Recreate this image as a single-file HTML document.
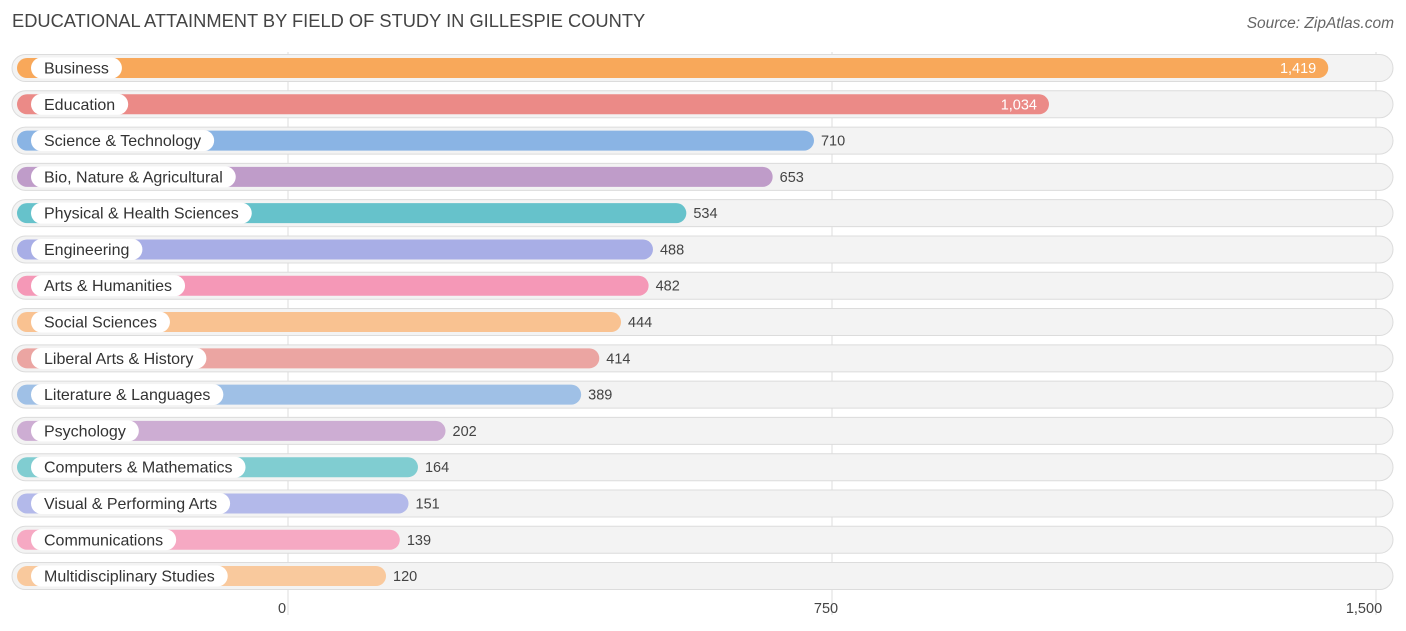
<!DOCTYPE html>
<html><head><meta charset="utf-8"><style>
body{margin:0;background:#fff;font-family:"Liberation Sans",sans-serif;}
#c{position:relative;width:1406px;height:631px;overflow:hidden}
.t{position:absolute;left:12px;top:10px;font-size:18.3px;color:#444}
.src{position:absolute;right:12px;top:15px;font-size:15.5px;color:#666;font-style:italic}
</style></head><body><div id="c">
<div class="t">EDUCATIONAL ATTAINMENT BY FIELD OF STUDY IN GILLESPIE COUNTY</div>
<div class="src">Source: ZipAtlas.com</div>
<svg id="s" width="1406" height="631" style="position:absolute;left:0;top:0"></svg>
</div>
<script>
const categories=["Business","Education","Science & Technology","Bio, Nature & Agricultural","Physical & Health Sciences","Engineering","Arts & Humanities","Social Sciences","Liberal Arts & History","Literature & Languages","Psychology","Computers & Mathematics","Visual & Performing Arts","Communications","Multidisciplinary Studies"];
const values=[1419,1034,710,653,534,488,482,444,414,389,202,164,151,139,120];
const colors=["#f8a85a","#eb8a87","#8ab4e4","#bf9cc9","#66c2cb","#a8aee6","#f598b7","#f9c291","#eba5a2","#9fc0e6","#cdadd3","#80cdd1","#b3b9ea","#f6a9c3","#f9c99d"];
const tickValues=[0,750,1500];
const tickLabels=["0","750","1,500"];
const NS="http://www.w3.org/2000/svg",svg=document.getElementById('s');
const x0=288,scale=544/750;
function xPos(v){return x0+v*scale;}
function yPos(i){return 68+i*36.29;}
function mk(tag,a,p){const e=document.createElementNS(NS,tag);for(const k in a)e.setAttribute(k,a[k]);(p||svg).appendChild(e);return e;}
tickValues.forEach((v,i)=>{
 const l=mk('line',{x1:xPos(v),x2:xPos(v),y1:52,y2:615,stroke:'#ddd','stroke-width':1});
 
 
});
categories.forEach((c,i)=>{
 const y=yPos(i);
 const g=mk('g',{});
 
 
 const bg=mk('rect',{x:12,y:y-13.5,width:1381,height:27,rx:13.5,fill:'#f3f3f3',stroke:'#dcdcdc','stroke-width':1},g);
 
 
 const w=xPos(values[i])+11-17;
 const b=mk('rect',{x:17,y:y-10,width:w,height:20,rx:10,fill:colors[i]},g);
 
 
 const tx=mk('text',{x:44,y:y+5.5,'font-size':16,fill:'#333','font-family':'Liberation Sans, sans-serif'},g);
 tx.textContent=c;
 const tw=tx.getComputedTextLength();
 const pill=mk('rect',{x:31,y:y-10.5,width:tw+26,height:21,rx:10.5,fill:'#fff'},g);
 
 
 g.appendChild(tx);
 
 
 const end=17+w;
 const inside=i<2;
 const vl=mk('text',{x:inside?end-12:end+7,y:y+5,'font-size':14.5,fill:inside?'#fff':'#444','text-anchor':inside?'end':'start'},g);
 vl.textContent=values[i].toLocaleString('en-US');
 
 
});
tickValues.forEach((v,i)=>{
 const t=mk('text',{x:xPos(v)-(i==2?12:6),y:613,'font-size':14.5,fill:'#444','text-anchor':'middle'});
 t.textContent=tickLabels[i];
 
 
});
</script></body></html>
